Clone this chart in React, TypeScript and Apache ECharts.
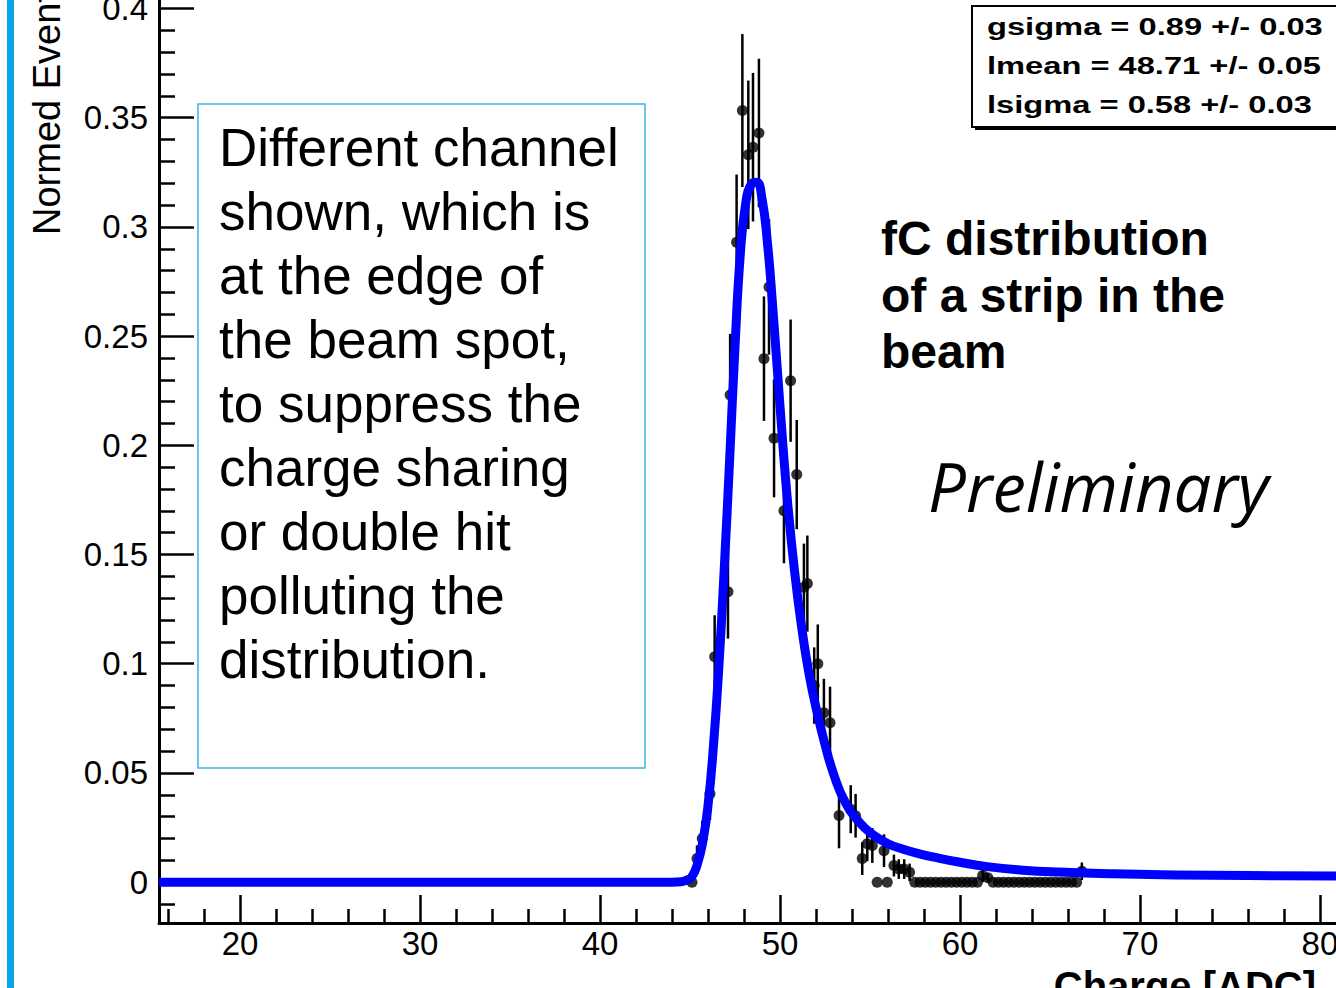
import React, { useEffect, useRef } from "react";
import * as echarts from "echarts";

// Histogram bins: centre [ADC], normalised content, statistical error
const binCenters = [
  45.11, 45.39, 45.68, 46.11, 46.37, 47.11, 47.23, 47.59, 47.91, 48.24, 48.5, 48.83,
  49.11, 49.39, 49.67, 50.22, 50.59, 50.93, 51.33, 51.52, 51.9, 52.1, 52.44, 52.78,
  53.28, 53.93, 54.2, 54.57, 54.85, 55.13, 55.4, 55.78, 55.96, 56.33, 56.6, 56.9, 57.2,
  57.49, 57.78, 58.07, 58.36, 58.65, 58.94, 59.23, 59.52, 59.81, 60.1, 60.39, 60.68,
  60.97, 61.26, 61.55, 61.84, 62.13, 62.42, 62.71, 63.0, 63.29, 63.58, 63.87, 64.16,
  64.45, 64.74, 65.03, 65.32, 65.61, 65.9, 66.19, 66.48, 66.77,
];
const normedEvents = [
  0.0, 0.0108, 0.02, 0.0405, 0.1032, 0.133, 0.223, 0.293, 0.3533, 0.333, 0.3365, 0.343,
  0.2397, 0.2725, 0.2032, 0.17, 0.2296, 0.1866, 0.135, 0.1367, 0.09, 0.1, 0.0776, 0.073,
  0.0305, 0.0334, 0.0304, 0.0108, 0.0176, 0.0168, 0.0, 0.0144, 0.0, 0.0076, 0.006, 0.006, 0.0045,
  0.0, 0.0, 0.0, 0.0, 0.0, 0.0, 0.0, 0.0, 0.0, 0.0, 0.0, 0.0,
  0.0, 0.003, 0.002, 0.0, 0.0, 0.0, 0.0, 0.0, 0.0, 0.0, 0.0, 0.0,
  0.0, 0.0, 0.0, 0.0, 0.0, 0.0, 0.0, 0.0, 0.005,
];
const binErrors = [
  0.0, 0.006, 0.008, 0.012, 0.019, 0.0215, 0.028, 0.031, 0.035, 0.034, 0.034, 0.034,
  0.0285, 0.031, 0.027, 0.024, 0.028, 0.025, 0.02, 0.022, 0.0175, 0.018, 0.0155, 0.0165,
  0.015, 0.011, 0.01, 0.0075, 0.008, 0.008, 0.0, 0.0075, 0.0, 0.005, 0.0045, 0.0045, 0.004,
  0, 0, 0, 0, 0, 0, 0, 0, 0, 0, 0, 0,
  0, 0.003, 0.002, 0, 0, 0, 0, 0, 0, 0, 0, 0,
  0, 0, 0, 0, 0, 0, 0, 0, 0.004,
];

// Landau (x) Gauss fit, sampled along the drawn curve
const fitX = [
  15.5, 30.0, 40.0, 44.0, 44.5, 44.8, 45.1, 45.4, 45.7, 46.0, 46.3, 46.6, 46.9, 47.2, 47.5,
  47.8, 48.1, 48.4, 48.7, 49.0, 49.3, 49.6, 50.0, 50.4, 50.8, 51.2, 51.6, 52.0, 52.5, 53.0,
  53.6, 54.4, 55.2, 56.0, 56.8, 57.7, 58.7, 60.0, 61.5, 63.5, 65.5, 68.5, 72.0, 76.0, 80.89,
];
const fitY = [
  0, 0, 0, 0, 0.0002, 0.0009, 0.0025, 0.008, 0.018, 0.035, 0.062, 0.098, 0.143, 0.193, 0.245,
  0.288, 0.311, 0.3195, 0.3205, 0.313, 0.293, 0.263, 0.218, 0.176, 0.143, 0.117, 0.096, 0.08, 0.063, 0.049,
  0.037, 0.0275, 0.0215, 0.0176, 0.0152, 0.0131, 0.0112, 0.0091, 0.0071, 0.0055, 0.0046, 0.0038, 0.0033, 0.003, 0.0028,
];

const xMajorTicks = [20, 30, 40, 50, 60, 70, 80];
const xMinorTicks = [
  16, 18, 22, 24, 26, 28, 32, 34, 36, 38, 42, 44, 46, 48, 52, 54, 56, 58, 62, 64, 66, 68,
  72, 74, 76, 78,
];
const yMajorTicks = [0, 0.05, 0.1, 0.15, 0.2, 0.25, 0.3, 0.35, 0.4];
const yTickLabels = ["0", "0.05", "0.1", "0.15", "0.2", "0.25", "0.3", "0.35", "0.4"];
const yMinorTicks = [
  -0.01, 0.01, 0.02, 0.03, 0.04, 0.06, 0.07, 0.08, 0.09, 0.11, 0.12, 0.13, 0.14, 0.16,
  0.17, 0.18, 0.19, 0.21, 0.22, 0.23, 0.24, 0.26, 0.27, 0.28, 0.29, 0.31, 0.32, 0.33,
  0.34, 0.36, 0.37, 0.38, 0.39,
];

const fitParams = ["gsigma = 0.89 +/- 0.03", "lmean = 48.71 +/- 0.05", "lsigma = 0.58 +/- 0.03"];
const noteLines = [
  "Different channel",
  "shown, which is",
  "at the edge of",
  "the beam spot,",
  "to suppress the",
  "charge sharing",
  "or double hit",
  "polluting the",
  "distribution.",
];
const captionLines = ["fC distribution", "of a strip in the", "beam"];

const X_MIN = 15.5;
const X_MAX = 80.89;
const Y_MIN = -0.0187;
const Y_MAX = 0.4039;
const SANS = "'Liberation Sans', Arial, Helvetica, sans-serif";

export default function App() {
  const ref = useRef<HTMLDivElement>(null);

  useEffect(() => {
    document.body.style.margin = "0";
    document.body.style.background = "#fff";
    if (!ref.current) return;
    const chart = echarts.init(ref.current, null, { renderer: "svg" });

    const tickStyle = { color: "#000", width: 2.5 };
    const labelStyle = { color: "#000", fontSize: 33, fontFamily: SANS };

    const option: any = {
      animation: false,
      backgroundColor: "#fff",
      grid: { left: 159, right: 0, top: 0, bottom: 65, containLabel: false, outerBoundsMode: "none" },
      xAxis: [
        {
          type: "value",
          min: X_MIN,
          max: X_MAX,
          position: "bottom",
          axisLine: { show: true, onZero: false, lineStyle: { color: "#000", width: 3 } },
          axisTick: { show: true, inside: true, length: 28, lineStyle: tickStyle, customValues: xMajorTicks },
          axisLabel: { ...labelStyle, margin: 4, customValues: xMajorTicks, formatter: (v: number) => String(Math.round(v)) },
          splitLine: { show: false },
        },
        {
          type: "value",
          min: X_MIN,
          max: X_MAX,
          position: "bottom",
          axisLine: { show: false, onZero: false },
          axisTick: { show: true, inside: true, length: 14, lineStyle: tickStyle, customValues: xMinorTicks },
          axisLabel: { show: false },
          splitLine: { show: false },
        },
      ],
      yAxis: [
        {
          type: "value",
          min: Y_MIN,
          max: Y_MAX,
          position: "left",
          axisLine: { show: true, onZero: false, lineStyle: { color: "#000", width: 3 } },
          axisTick: { show: true, inside: true, length: 35, lineStyle: tickStyle, customValues: yMajorTicks },
          axisLabel: {
            ...labelStyle,
            margin: 11,
            customValues: yMajorTicks,
            formatter: (v: number) => {
              const i = yMajorTicks.findIndex((t) => Math.abs(t - v) < 1e-9);
              return i >= 0 ? yTickLabels[i] : "";
            },
          },
          splitLine: { show: false },
        },
        {
          type: "value",
          min: Y_MIN,
          max: Y_MAX,
          position: "left",
          axisLine: { show: false, onZero: false },
          axisTick: { show: true, inside: true, length: 16, lineStyle: tickStyle, customValues: yMinorTicks },
          axisLabel: { show: false },
          splitLine: { show: false },
        },
      ],
      series: [
        {
          type: "custom",
          name: "errors",
          xAxisIndex: 0,
          yAxisIndex: 0,
          z: 2,
          clip: true,
          data: binCenters.map((x, i) => [x, normedEvents[i], binErrors[i]]),
          encode: { x: 0, y: 1 },
          renderItem: (params: any, api: any) => {
            const x = api.value(0);
            const y = api.value(1);
            const e = api.value(2);
            if (!e) return null;
            const top = api.coord([x, y + e]);
            const bot = api.coord([x, y - e]);
            return {
              type: "line",
              shape: { x1: top[0], y1: top[1], x2: bot[0], y2: bot[1] },
              style: { stroke: "#000", lineWidth: 2.5 },
            };
          },
        },
        {
          type: "scatter",
          name: "data",
          xAxisIndex: 0,
          yAxisIndex: 0,
          z: 3,
          symbol: "circle",
          symbolSize: 11,
          itemStyle: { color: "#000" },
          data: binCenters.map((x, i) => [x, normedEvents[i]]),
        },
        {
          type: "line",
          name: "fit",
          xAxisIndex: 0,
          yAxisIndex: 0,
          z: 5,
          smooth: 0.5,
          showSymbol: false,
          symbol: "none",
          lineStyle: { color: "#0000ff", width: 9, join: "round" },
          data: fitX.map((x, i) => [x, fitY[i]]),
        },
      ],
      graphic: [
        // slide accent bar
        { type: "rect", z: 10, shape: { x: 7, y: 0, width: 7, height: 988 }, style: { fill: "#06a6e6" } },
        // y axis title
        {
          type: "text",
          z: 10,
          x: 46.5,
          y: 235,
          rotation: Math.PI / 2,
          style: { text: "Normed Events", font: `38px ${SANS}`, fill: "#000", align: "left", verticalAlign: "middle" },
        },
        // x axis title
        {
          type: "text",
          z: 10,
          x: 1316,
          y: 986,
          style: { text: "Charge [ADC]", font: `bold 40px ${SANS}`, fill: "#000", align: "right", verticalAlign: "middle" },
        },
        // fit parameter box
        { type: "rect", z: 10, shape: { x: 975, y: 9, width: 380, height: 121 }, style: { fill: "#000" } },
        { type: "rect", z: 11, shape: { x: 972, y: 6, width: 380, height: 121 }, style: { fill: "#fff", stroke: "#000", lineWidth: 2 } },
        {
          type: "text",
          z: 12,
          x: 987,
          y: 7.5,
          scaleX: 1.42,
          style: {
            text: fitParams.join("\n"),
            font: `bold 23px ${SANS}`,
            lineHeight: 39,
            fill: "#000",
            align: "left",
            verticalAlign: "top",
          },
        },
        // comment box
        { type: "rect", z: 10, shape: { x: 198, y: 104, width: 447, height: 664 }, style: { fill: "#fff", stroke: "#3db4e6", lineWidth: 1.5 } },
        {
          type: "text",
          z: 11,
          x: 219,
          y: 115,
          style: {
            text: noteLines.join("\n"),
            font: `53px ${SANS}`,
            lineHeight: 64.1,
            fill: "#000",
            align: "left",
            verticalAlign: "top",
          },
        },
        // caption
        {
          type: "text",
          z: 10,
          x: 881,
          y: 210.5,
          style: {
            text: captionLines.join("\n"),
            font: `bold 48px ${SANS}`,
            lineHeight: 56.5,
            fill: "#000",
            align: "left",
            verticalAlign: "top",
          },
        },
        {
          type: "text",
          z: 10,
          x: 928,
          y: 485.5,
          style: {
            text: "Preliminary",
            font: `italic 67px 'Open Sans', 'DejaVu Sans', sans-serif`,
            fill: "#000",
            align: "left",
            verticalAlign: "middle",
          },
        },
      ],
    };

    chart.setOption(option);
    return () => chart.dispose();
  }, []);

  return <div ref={ref} style={{ position: "absolute", left: 0, top: 0, width: 1336, height: 988 }} />;
}
